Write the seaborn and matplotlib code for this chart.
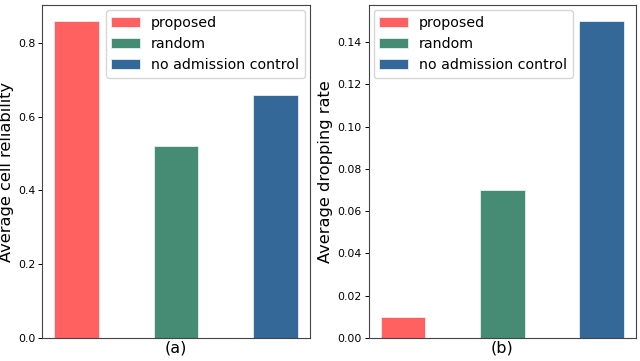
"""Admission control comparison: cell reliability and dropping rate."""

import matplotlib

matplotlib.use("Agg")

import matplotlib.pyplot as plt
import pandas as pd
import seaborn as sns

methods = ["proposed", "random", "no admission control"]
reliability = [0.86, 0.52, 0.66]
dropping_rate = [0.01, 0.07, 0.15]
colors = ["#FF6161", "#468B73", "#346898"]

sns.set_style("ticks")
plt.rcParams["font.family"] = ["DejaVu Sans"]
plt.rcParams.update({"text.color": "black", "axes.labelcolor": "black",
                     "xtick.color": "black", "ytick.color": "black"})

df = pd.DataFrame({"method": methods, "reliability": reliability, "dropping": dropping_rate})
palette = dict(zip(methods, colors))

fig, axes = plt.subplots(1, 2, figsize=(6.4, 3.61), dpi=100)
fig.subplots_adjust(left=0.066, right=0.994, bottom=0.064, top=0.986, wspace=0.22)

panels = [
    ("reliability", "Average cell reliability", "(a)", "upper right"),
    ("dropping", "Average dropping rate", "(b)", "upper left"),
]
for ax, (col, ylabel, xlabel, loc) in zip(axes, panels):
    sns.barplot(
        data=df, x="method", y=col, hue="method", palette=palette,
        width=0.45, dodge=False, ax=ax, legend=True,
        edgecolor="#e8eef0", linewidth=0.6, saturation=1,
    )
    # matplotlib-style x margins instead of seaborn's categorical limits
    ax.autoscale(axis="x")
    ax.set_xticks([])
    ax.set_xlabel(xlabel, fontsize=11.5, labelpad=2)
    ax.set_ylabel(ylabel, fontsize=11.7, labelpad=3)
    ax.tick_params(axis="y", labelsize=7.8, length=2.6, pad=2.4, width=0.7)
    for side in ["top", "right", "left", "bottom"]:
        ax.spines[side].set_visible(True)
        ax.spines[side].set_color("#444444")
        ax.spines[side].set_linewidth(0.8)
    ax.legend(loc=loc, fontsize=10.2, title=None, frameon=True,
              borderaxespad=0.35)

fig.savefig("out.png", dpi=100)
plt.close(fig)
